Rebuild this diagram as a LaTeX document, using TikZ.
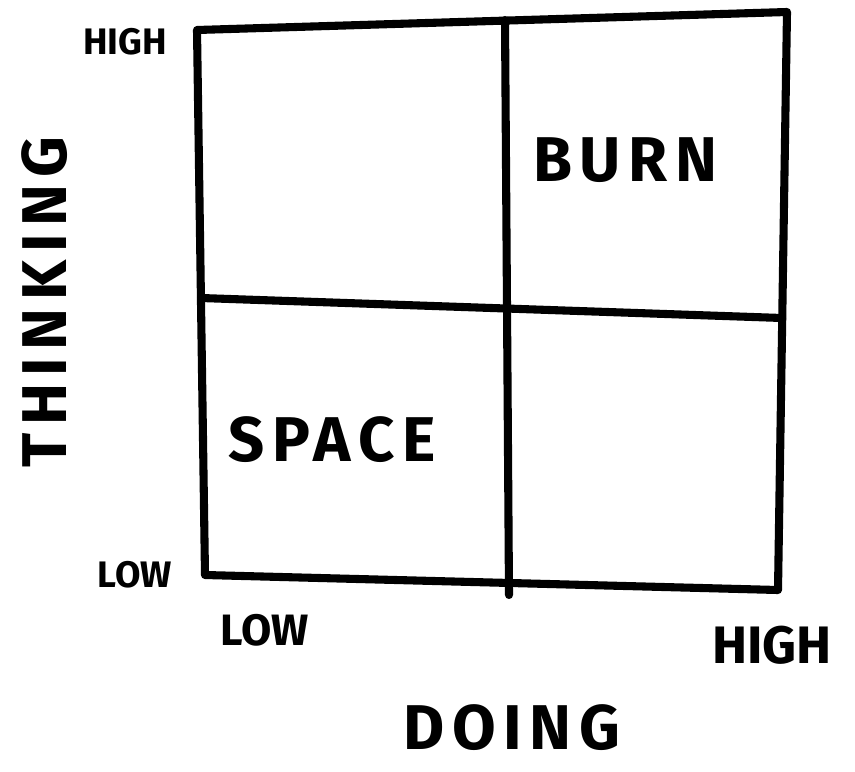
\documentclass[tikz,border=0pt]{standalone}
\usepackage{fontspec}
\setmainfont{Fira Sans}
\usetikzlibrary{positioning}
\tikzset{gridline/.style={line width=4.6pt,line cap=round,line join=round,black},
  biglabel/.style={font=\fontsize{36}{38}\selectfont\bfseries\addfontfeatures{LetterSpace=12},inner sep=0pt},
  smalllabel/.style={font=\fontsize{21}{23}\selectfont\bfseries,inner sep=0pt}}

\begin{document}
\begin{tikzpicture}[x=0.02cm,y=-0.02cm]
\useasboundingbox (0,0) rectangle (855,771);
% corners of the matrix
\coordinate (tl) at (197,30);
\coordinate (tr) at (787,12);
\coordinate (br) at (778,590);
\coordinate (bl) at (205,575);
\coordinate (tm) at (505,20);
\coordinate (bm) at (509,595);
\coordinate (ml) at (201,298);
\coordinate (mr) at (782,318);
\draw[gridline] (tl) -- (tr) -- (br) -- (bl) -- cycle;
\draw[gridline] (tm) -- (bm);
\draw[gridline] (ml) -- (mr);
% quadrant names
\node[biglabel] (burn) at (625,160) {BURN};
\node[biglabel] (space) at (332,440) {SPACE};
% axes
\node[smalllabel] (yhigh) at (125,42) {HIGH};
\node[smalllabel] (ylow) at (135,575) {LOW};
\node[smalllabel,font=\fontsize{25}{27}\selectfont\bfseries] (xlow) at (265,630) {LOW};
\node[smalllabel,font=\fontsize{30}{32}\selectfont\bfseries] (xhigh) at (772,645) {HIGH};
\node[biglabel] (doing) at (512,728) {DOING};
\node[biglabel,rotate=90] (thinking) at (45,302) {THINKING};
\end{tikzpicture}
\end{document}
